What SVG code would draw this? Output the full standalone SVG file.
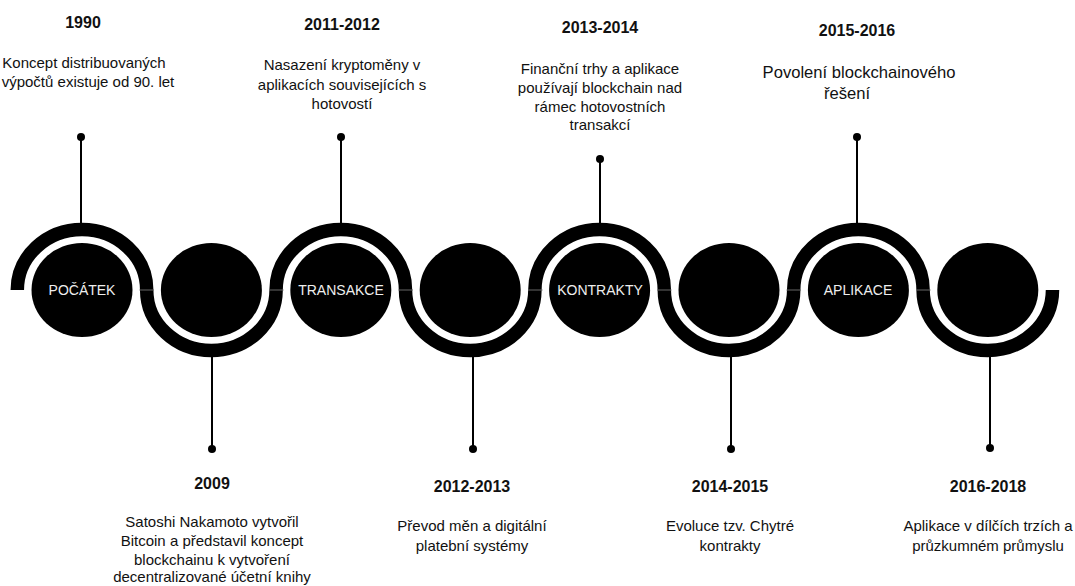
<svg xmlns="http://www.w3.org/2000/svg" width="1075" height="586" viewBox="0 0 1075 586">
<style>
.yr{font-family:"Liberation Sans",Arial,sans-serif;font-size:16px;font-weight:bold;fill:#111;text-anchor:middle}
.ds{font-family:"Liberation Sans",Arial,sans-serif;font-size:15px;fill:#111;text-anchor:middle}
.ds2{font-family:"Liberation Sans",Arial,sans-serif;font-size:16.6px;fill:#111;text-anchor:middle}
.lb{font-family:"Liberation Sans",Arial,sans-serif;font-size:14px;fill:#eee;text-anchor:middle;dominant-baseline:central}
.band{fill:none;stroke:#000;stroke-width:13.5;stroke-linecap:butt}
.seam{stroke:#666;stroke-width:1}
.stem{stroke:#000;stroke-width:2}
.dot{fill:#000}
.node{fill:#000}
</style>
<rect width="1075" height="586" fill="#fff"/>
<g id="connectors">
<path class="band" d="M17.3,290 A64.7,60.5 0 0 1 146.7,290 A64.7,60.5 0 0 0 276.1,290 A64.7,60.5 0 0 1 405.5,290 A64.7,60.5 0 0 0 534.9,290 A64.7,60.5 0 0 1 664.3,290 A64.7,60.5 0 0 0 793.7,290 A64.7,60.5 0 0 1 923.1,290 A64.7,60.5 0 0 0 1052.5,290"/>
<line class="seam" x1="139.5" y1="290" x2="154" y2="290"/>
<line class="seam" x1="269" y1="290" x2="283.5" y2="290"/>
<line class="seam" x1="398.5" y1="290" x2="413" y2="290"/>
<line class="seam" x1="528" y1="290" x2="542.5" y2="290"/>
<line class="seam" x1="657" y1="290" x2="671.5" y2="290"/>
<line class="seam" x1="786.5" y1="290" x2="801" y2="290"/>
<line class="seam" x1="916" y1="290" x2="930.5" y2="290"/>
<line class="stem" x1="81" y1="137" x2="81" y2="223"/>
<circle class="dot" cx="81" cy="137" r="4"/>
<line class="stem" x1="341" y1="137" x2="341" y2="223"/>
<circle class="dot" cx="341" cy="137" r="4"/>
<line class="stem" x1="600" y1="159" x2="600" y2="223"/>
<circle class="dot" cx="600" cy="159" r="4"/>
<line class="stem" x1="857" y1="137" x2="857" y2="223"/>
<circle class="dot" cx="857" cy="137" r="4"/>
<line class="stem" x1="212" y1="357" x2="212" y2="449"/>
<circle class="dot" cx="212" cy="449" r="4"/>
<line class="stem" x1="473" y1="357" x2="473" y2="449"/>
<circle class="dot" cx="473" cy="449" r="4"/>
<line class="stem" x1="731" y1="357" x2="731" y2="449"/>
<circle class="dot" cx="731" cy="449" r="4"/>
<line class="stem" x1="990" y1="357" x2="990" y2="448"/>
<circle class="dot" cx="990" cy="448" r="4"/>
</g>
<g id="n1">
<ellipse class="node" cx="82" cy="290" rx="50.5" ry="47"/>
<text class="lb" x="82" y="290">POČÁTEK</text>
<text class="yr" x="83" y="28">1990</text>
<text class="ds" x="84" y="68">Koncept distribuovaných</text>
<text class="ds" x="88" y="87">výpočtů existuje od 90. let</text>
</g>
<g id="n2">
<ellipse class="node" cx="211.4" cy="290" rx="50.5" ry="47"/>
<text class="yr" x="212" y="489">2009</text>
<text class="ds" x="212" y="527">Satoshi Nakamoto vytvořil</text>
<text class="ds" x="212" y="546">Bitcoin a představil koncept</text>
<text class="ds" x="212" y="565">blockchainu k vytvoření</text>
<text class="ds" x="212" y="582">decentralizované účetní knihy</text>
</g>
<g id="n3">
<ellipse class="node" cx="340.8" cy="290" rx="50.5" ry="47"/>
<text class="lb" x="341" y="290">TRANSAKCE</text>
<text class="yr" x="342" y="30">2011-2012</text>
<text class="ds" x="342" y="70">Nasazení kryptoměny v</text>
<text class="ds" x="342" y="90">aplikacích souvisejících s</text>
<text class="ds" x="342" y="109">hotovostí</text>
</g>
<g id="n4">
<ellipse class="node" cx="470.2" cy="290" rx="50.5" ry="47"/>
<text class="yr" x="472" y="492">2012-2013</text>
<text class="ds" x="472" y="531">Převod měn a digitální</text>
<text class="ds" x="472" y="551">platební systémy</text>
</g>
<g id="n5">
<ellipse class="node" cx="599.6" cy="290" rx="50.5" ry="47"/>
<text class="lb" x="600" y="290">KONTRAKTY</text>
<text class="yr" x="600" y="33">2013-2014</text>
<text class="ds" x="600" y="74">Finanční trhy a aplikace</text>
<text class="ds" x="600" y="93">používají blockchain nad</text>
<text class="ds" x="600" y="112">rámec hotovostních</text>
<text class="ds" x="600" y="130">transakcí</text>
</g>
<g id="n6">
<ellipse class="node" cx="729" cy="290" rx="50.5" ry="47"/>
<text class="yr" x="730" y="492">2014-2015</text>
<text class="ds" x="730" y="531">Evoluce tzv. Chytré</text>
<text class="ds" x="730" y="551">kontrakty</text>
</g>
<g id="n7">
<ellipse class="node" cx="858.4" cy="290" rx="50.5" ry="47"/>
<text class="lb" x="858" y="290">APLIKACE</text>
<text class="yr" x="857" y="36">2015-2016</text>
<text class="ds2" x="859" y="78">Povolení blockchainového</text>
<text class="ds2" x="847" y="99">řešení</text>
</g>
<g id="n8">
<ellipse class="node" cx="987.8" cy="290" rx="50.5" ry="47"/>
<text class="yr" x="988" y="492">2016-2018</text>
<text class="ds" x="988" y="531">Aplikace v dílčích trzích a</text>
<text class="ds" x="988" y="551">průzkumném průmyslu</text>
</g>
</svg>
